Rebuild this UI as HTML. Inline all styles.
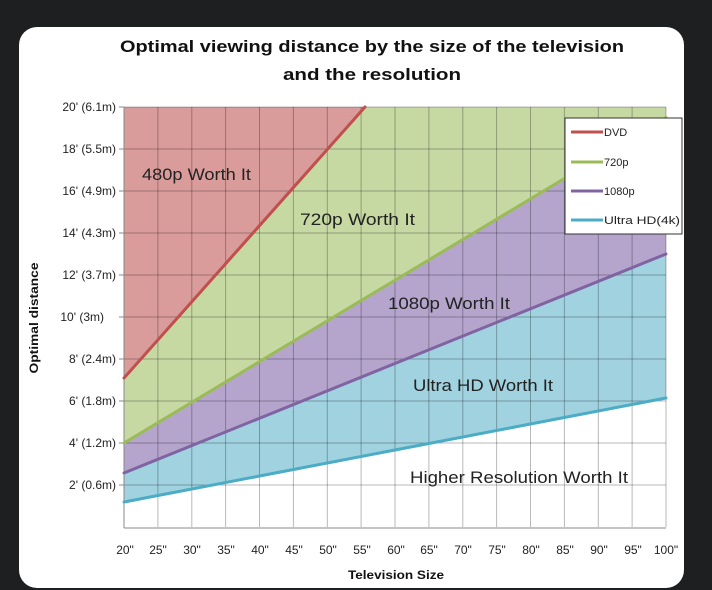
<!DOCTYPE html>
<html><head><meta charset="utf-8"><style>
html,body{margin:0;padding:0;background:#1e1f21;width:712px;height:590px;overflow:hidden}
svg{display:block}
</style></head><body>
<svg width="712" height="590" xmlns="http://www.w3.org/2000/svg" font-family="Liberation Sans, sans-serif">
<rect x="19" y="27" width="665" height="561" rx="18" fill="#ffffff"/>
<text x="372" y="52" text-anchor="middle" font-weight="bold" font-size="17" textLength="504" lengthAdjust="spacingAndGlyphs" fill="#111">Optimal viewing distance by the size of the television</text>
<text x="372" y="80" text-anchor="middle" font-weight="bold" font-size="17" textLength="178" lengthAdjust="spacingAndGlyphs" fill="#111">and the resolution</text>
<!-- regions -->
<polygon points="124,107 365,107 124,378" fill="#d99c9b"/>
<polygon points="124,378 365,107 666,107 666,117.5 124,443" fill="#c7d9a3"/>
<polygon points="124,443 666,117.5 666,254 124,473" fill="#b5a5cd"/>
<polygon points="124,473 666,254 666,398 124,502" fill="#a0d2e0"/>
<!-- grid -->
<g stroke="#000" stroke-opacity="0.28" stroke-width="1">
<line x1="157.9" y1="107" x2="157.9" y2="527"/><line x1="191.8" y1="107" x2="191.8" y2="527"/><line x1="225.6" y1="107" x2="225.6" y2="527"/><line x1="259.5" y1="107" x2="259.5" y2="527"/><line x1="293.4" y1="107" x2="293.4" y2="527"/><line x1="327.3" y1="107" x2="327.3" y2="527"/><line x1="361.1" y1="107" x2="361.1" y2="527"/><line x1="395" y1="107" x2="395" y2="527"/><line x1="428.9" y1="107" x2="428.9" y2="527"/><line x1="462.8" y1="107" x2="462.8" y2="527"/><line x1="496.6" y1="107" x2="496.6" y2="527"/><line x1="530.5" y1="107" x2="530.5" y2="527"/><line x1="564.4" y1="107" x2="564.4" y2="527"/><line x1="598.3" y1="107" x2="598.3" y2="527"/><line x1="632.1" y1="107" x2="632.1" y2="527"/><line x1="666" y1="107" x2="666" y2="527"/>
<line x1="124" y1="107" x2="666" y2="107"/><line x1="124" y1="149" x2="666" y2="149"/><line x1="124" y1="191" x2="666" y2="191"/><line x1="124" y1="233" x2="666" y2="233"/><line x1="124" y1="275" x2="666" y2="275"/><line x1="124" y1="317" x2="666" y2="317"/><line x1="124" y1="359" x2="666" y2="359"/><line x1="124" y1="401" x2="666" y2="401"/><line x1="124" y1="443" x2="666" y2="443"/><line x1="124" y1="485" x2="666" y2="485"/>
</g>
<!-- axes -->
<g stroke="#888" stroke-width="1">
<line x1="124" y1="107" x2="124" y2="528"/><line x1="124" y1="528" x2="666" y2="528"/>
<line x1="119" y1="107" x2="124" y2="107"/><line x1="119" y1="149" x2="124" y2="149"/><line x1="119" y1="191" x2="124" y2="191"/><line x1="119" y1="233" x2="124" y2="233"/><line x1="119" y1="275" x2="124" y2="275"/><line x1="119" y1="317" x2="124" y2="317"/><line x1="119" y1="359" x2="124" y2="359"/><line x1="119" y1="401" x2="124" y2="401"/><line x1="119" y1="443" x2="124" y2="443"/><line x1="119" y1="485" x2="124" y2="485"/>
</g>
<!-- lines -->
<g stroke-width="3" stroke-linecap="round">
<line x1="124" y1="378" x2="365" y2="107" stroke="#c0504d"/>
<line x1="124" y1="443" x2="666" y2="117.5" stroke="#9bbb59"/>
<line x1="124" y1="473" x2="666" y2="254" stroke="#8064a2"/>
<line x1="124" y1="502" x2="666" y2="398" stroke="#4bacc6"/>
</g>
<!-- region labels -->
<g font-size="17" fill="#222">
<text x="142" y="180" textLength="109" lengthAdjust="spacingAndGlyphs">480p Worth It</text>
<text x="300" y="225" textLength="115" lengthAdjust="spacingAndGlyphs">720p Worth It</text>
<text x="388" y="309" textLength="122" lengthAdjust="spacingAndGlyphs">1080p Worth It</text>
<text x="413" y="391" textLength="140" lengthAdjust="spacingAndGlyphs">Ultra HD Worth It</text>
<text x="410" y="483" textLength="218" lengthAdjust="spacingAndGlyphs">Higher Resolution Worth It</text>
</g>
<!-- legend -->
<rect x="565" y="118" width="117" height="116" fill="#fff" stroke="#333" stroke-width="1"/>
<g stroke-width="3">
<line x1="571" y1="132" x2="603" y2="132" stroke="#c0504d"/>
<line x1="571" y1="162" x2="603" y2="162" stroke="#9bbb59"/>
<line x1="571" y1="191" x2="603" y2="191" stroke="#8064a2"/>
<line x1="571" y1="220" x2="603" y2="220" stroke="#4bacc6"/>
</g>
<g font-size="11" fill="#222">
<text x="604" y="136">DVD</text>
<text x="604" y="166">720p</text>
<text x="604" y="195">1080p</text>
<text x="604" y="224" textLength="76" lengthAdjust="spacingAndGlyphs">Ultra HD(4k)</text>
</g>
<!-- y tick labels -->
<g font-size="12" fill="#222" text-anchor="end">
<text x="116" y="111">20' (6.1m)</text>
<text x="116" y="153">18' (5.5m)</text>
<text x="116" y="195">16' (4.9m)</text>
<text x="116" y="237">14' (4.3m)</text>
<text x="116" y="279">12' (3.7m)</text>
<text x="104" y="321">10' (3m)</text>
<text x="116" y="363">8' (2.4m)</text>
<text x="116" y="405">6' (1.8m)</text>
<text x="116" y="447">4' (1.2m)</text>
<text x="116" y="489">2' (0.6m)</text>
</g>
<text transform="translate(38,318) rotate(-90)" text-anchor="middle" font-size="12" font-weight="bold" fill="#111" textLength="111" lengthAdjust="spacingAndGlyphs">Optimal distance</text>
<!-- x labels -->
<g font-size="12" fill="#222" text-anchor="middle">
<text x="125" y="554">20"</text><text x="158" y="554">25"</text><text x="192" y="554">30"</text><text x="226" y="554">35"</text><text x="260" y="554">40"</text><text x="294" y="554">45"</text><text x="328" y="554">50"</text><text x="362" y="554">55"</text><text x="396" y="554">60"</text><text x="429" y="554">65"</text><text x="463" y="554">70"</text><text x="497" y="554">75"</text><text x="531" y="554">80"</text><text x="565" y="554">85"</text><text x="599" y="554">90"</text><text x="633" y="554">95"</text><text x="666" y="554">100"</text>
</g>
<text x="396" y="579" text-anchor="middle" font-size="12" font-weight="bold" fill="#111" textLength="96" lengthAdjust="spacingAndGlyphs">Television Size</text>
</svg>
</body></html>
